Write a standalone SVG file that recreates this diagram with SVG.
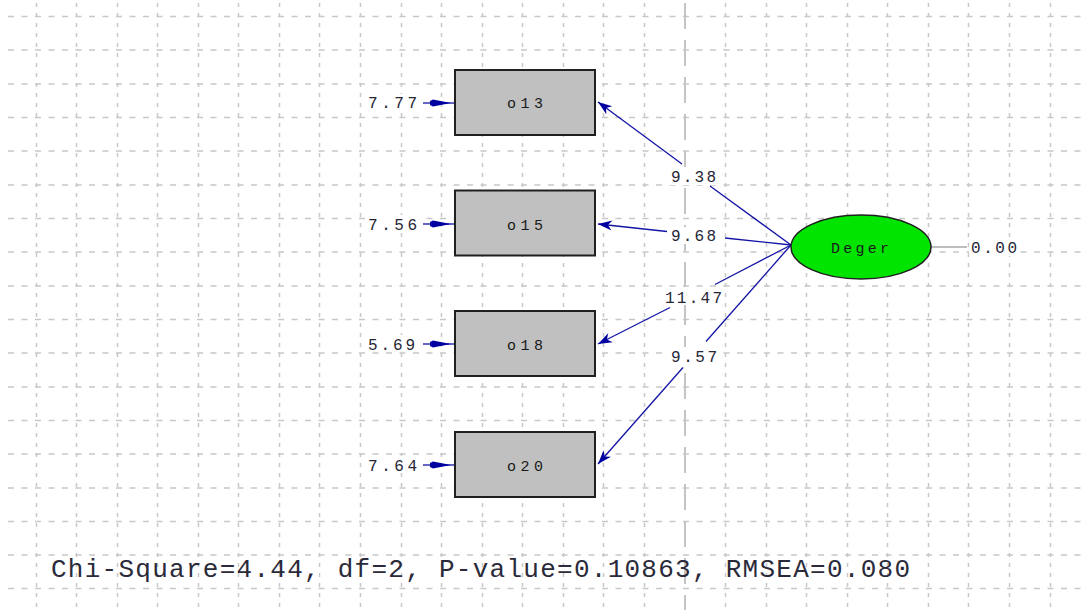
<svg xmlns="http://www.w3.org/2000/svg" xmlns:xlink="http://www.w3.org/1999/xlink" width="1085" height="610" viewBox="0 0 1085 610">
<style>
.gh{stroke:#c8c8c8;stroke-width:1.5;stroke-dasharray:6 7.5;fill:none}
.gv{stroke:#c8c8c8;stroke-width:1.5;stroke-dasharray:4 6;fill:none}
.ax{stroke:#c4c4c4;stroke-width:2;stroke-dasharray:26 11;fill:none}
.box{fill:#c0c0c0;stroke:#202020;stroke-width:2}
.lat{fill:#00e400;stroke:#202020;stroke-width:1.5}
.nl{font-family:"Liberation Mono","DejaVu Sans Mono",monospace;font-size:15px;fill:#1a1a1a;text-anchor:middle}
.val{font-family:"Liberation Mono","DejaVu Sans Mono",monospace;font-size:16px;fill:#262636;text-anchor:middle}
.bg{fill:#ffffff}
.cn{stroke:#1414a6;stroke-width:1.3;fill:none}
.ah{fill:#0000a0}
.chi{font-family:"Liberation Mono","DejaVu Sans Mono",monospace;font-size:26px;fill:#2a2a3a}
</style>
<defs>
<marker id="arr" viewBox="-15 -6 16 12" refX="0" refY="0" markerWidth="16" markerHeight="12" markerUnits="userSpaceOnUse" orient="auto">
<path class="ah" d="M0,0 L-14,-5 L-10,0 L-14,5 Z"/>
</marker>
<path id="eh" class="ah" d="M0,0 L-18,-3.5 L-21,-2 L-21,2 L-18,3.5 Z"/>
</defs>
<rect width="1085" height="610" fill="#ffffff"/>
<g id="grid">
<line class="gh" x1="8" y1="16.5" x2="1085" y2="16.5"/>
<line class="gh" x1="8" y1="50" x2="1085" y2="50"/>
<line class="gh" x1="8" y1="84" x2="1085" y2="84"/>
<line class="gh" x1="8" y1="117.5" x2="1085" y2="117.5"/>
<line class="gh" x1="8" y1="151" x2="1085" y2="151"/>
<line class="gh" x1="8" y1="185" x2="1085" y2="185"/>
<line class="gh" x1="8" y1="218.5" x2="1085" y2="218.5"/>
<line class="gh" x1="8" y1="252" x2="1085" y2="252"/>
<line class="gh" x1="8" y1="286" x2="1085" y2="286"/>
<line class="gh" x1="8" y1="319.5" x2="1085" y2="319.5"/>
<line class="gh" x1="8" y1="353" x2="1085" y2="353"/>
<line class="gh" x1="8" y1="387" x2="1085" y2="387"/>
<line class="gh" x1="8" y1="420.5" x2="1085" y2="420.5"/>
<line class="gh" x1="8" y1="454" x2="1085" y2="454"/>
<line class="gh" x1="8" y1="488" x2="1085" y2="488"/>
<line class="gh" x1="8" y1="521.5" x2="1085" y2="521.5"/>
<line class="gh" x1="8" y1="555" x2="1085" y2="555"/>
<line class="gh" x1="8" y1="588.5" x2="1085" y2="588.5"/>
<line class="gv" x1="36.5" y1="3" x2="36.5" y2="610"/>
<line class="gv" x1="76.5" y1="3" x2="76.5" y2="610"/>
<line class="gv" x1="117.5" y1="3" x2="117.5" y2="610"/>
<line class="gv" x1="157.5" y1="3" x2="157.5" y2="610"/>
<line class="gv" x1="198.5" y1="3" x2="198.5" y2="610"/>
<line class="gv" x1="238.5" y1="3" x2="238.5" y2="610"/>
<line class="gv" x1="279.5" y1="3" x2="279.5" y2="610"/>
<line class="gv" x1="319.5" y1="3" x2="319.5" y2="610"/>
<line class="gv" x1="360.5" y1="3" x2="360.5" y2="610"/>
<line class="gv" x1="401.5" y1="3" x2="401.5" y2="610"/>
<line class="gv" x1="441.5" y1="3" x2="441.5" y2="610"/>
<line class="gv" x1="482.5" y1="3" x2="482.5" y2="610"/>
<line class="gv" x1="522.5" y1="3" x2="522.5" y2="610"/>
<line class="gv" x1="563.5" y1="3" x2="563.5" y2="610"/>
<line class="gv" x1="603.5" y1="3" x2="603.5" y2="610"/>
<line class="gv" x1="644.5" y1="3" x2="644.5" y2="610"/>
<line class="ax" x1="685" y1="3" x2="685" y2="610"/>
<line class="gv" x1="725.5" y1="3" x2="725.5" y2="610"/>
<line class="gv" x1="766.5" y1="3" x2="766.5" y2="610"/>
<line class="gv" x1="806.5" y1="3" x2="806.5" y2="610"/>
<line class="gv" x1="847.5" y1="3" x2="847.5" y2="610"/>
<line class="gv" x1="887.5" y1="3" x2="887.5" y2="610"/>
<line class="gv" x1="928.5" y1="3" x2="928.5" y2="610"/>
<line class="gv" x1="968.5" y1="3" x2="968.5" y2="610"/>
<line class="gv" x1="1009.5" y1="3" x2="1009.5" y2="610"/>
<line class="gv" x1="1050.5" y1="3" x2="1050.5" y2="610"/>
</g>
<g id="connectors">
<line class="cn" x1="791" y1="245" x2="710" y2="186"/>
<line class="cn" x1="682" y1="164" x2="598" y2="102" marker-end="url(#arr)"/>
<line class="cn" x1="791" y1="245" x2="725" y2="238"/>
<line class="cn" x1="667" y1="231.5" x2="598" y2="224" marker-end="url(#arr)"/>
<line class="cn" x1="791" y1="245" x2="715" y2="284.5"/>
<line class="cn" x1="670" y1="307.5" x2="598" y2="344" marker-end="url(#arr)"/>
<line class="cn" x1="791" y1="245" x2="706" y2="341.5"/>
<line class="cn" x1="683" y1="367.5" x2="598" y2="464" marker-end="url(#arr)"/>
<line class="cn" x1="423" y1="103" x2="455" y2="103"/>
<line class="cn" x1="423" y1="224" x2="455" y2="224"/>
<line class="cn" x1="423" y1="344" x2="455" y2="344"/>
<line class="cn" x1="423" y1="465" x2="455" y2="465"/>
<use xlink:href="#eh" x="451" y="103"/>
<use xlink:href="#eh" x="451" y="224"/>
<use xlink:href="#eh" x="451" y="344"/>
<use xlink:href="#eh" x="451" y="465"/>
<line x1="931" y1="247" x2="967" y2="247" stroke="#a8a8a8" stroke-width="1.3"/>
</g>
<g id="labels">
<rect class="bg" x="669" y="167" width="49" height="18"/>
<text class="val" x="693.5" y="182" textLength="45" lengthAdjust="spacing">9.38</text>
<rect class="bg" x="669" y="227" width="50" height="17"/>
<text class="val" x="693.5" y="241" textLength="45" lengthAdjust="spacing">9.68</text>
<rect class="bg" x="663" y="287" width="61" height="18"/>
<text class="val" x="693.5" y="303" textLength="57" lengthAdjust="spacing">11.47</text>
<rect class="bg" x="669" y="347" width="50" height="18"/>
<text class="val" x="694" y="362" textLength="46" lengthAdjust="spacing">9.57</text>
</g>
<g id="e_o13">
<rect class="bg" x="366" y="94" width="53" height="17"/>
<text class="val" x="392.5" y="108" textLength="49" lengthAdjust="spacing">7.77</text>
</g>
<g id="e_o15">
<rect class="bg" x="366" y="215" width="53" height="17"/>
<text class="val" x="392.5" y="229.5" textLength="49" lengthAdjust="spacing">7.56</text>
</g>
<g id="e_o18">
<rect class="bg" x="366" y="335" width="53" height="17"/>
<text class="val" x="391.5" y="350" textLength="47" lengthAdjust="spacing">5.69</text>
</g>
<g id="e_o20">
<rect class="bg" x="366" y="456" width="53" height="17"/>
<text class="val" x="392.5" y="471" textLength="49" lengthAdjust="spacing">7.64</text>
</g>
<g id="o13">
<rect class="box" x="455" y="70" width="140" height="65"/>
<text class="nl" x="525" y="108" textLength="36" lengthAdjust="spacing">o13</text>
</g>
<g id="o15">
<rect class="box" x="455" y="190.5" width="140" height="65"/>
<text class="nl" x="525" y="229.5" textLength="36" lengthAdjust="spacing">o15</text>
</g>
<g id="o18">
<rect class="box" x="455" y="311" width="140" height="65"/>
<text class="nl" x="525" y="350" textLength="36" lengthAdjust="spacing">o18</text>
</g>
<g id="o20">
<rect class="box" x="455" y="432" width="140" height="65"/>
<text class="nl" x="525" y="471" textLength="36" lengthAdjust="spacing">o20</text>
</g>
<g id="Deger">
<ellipse class="lat" cx="861" cy="247" rx="70" ry="32"/>
<text class="nl" x="860" y="253" textLength="58" lengthAdjust="spacing">Deger</text>
</g>
<g id="v_Deger">
<rect class="bg" x="969" y="239" width="50" height="17"/>
<text class="val" x="994" y="253" textLength="46" lengthAdjust="spacing">0.00</text>
</g>
<g id="fit">
<text class="chi" x="51" y="577" textLength="859" lengthAdjust="spacing">Chi-Square=4.44, df=2, P-value=0.10863, RMSEA=0.080</text>
</g>
</svg>
